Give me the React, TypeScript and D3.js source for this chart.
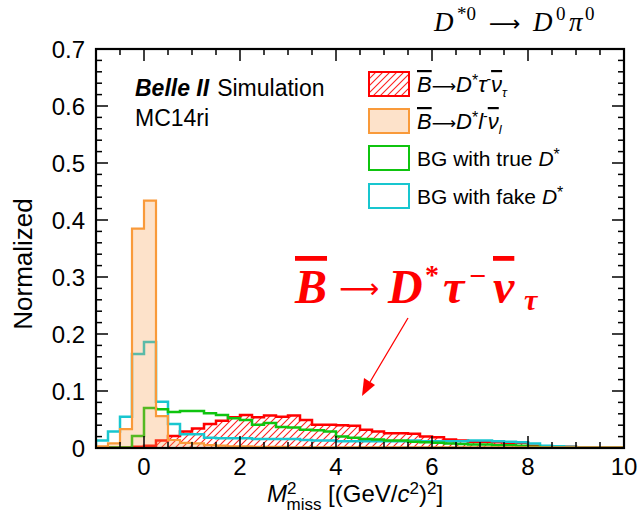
import React from 'react';
import * as d3 from 'd3';

// ---- data (bin width 0.25 from -1 to 10, 44 bins) ----
const binStart = -1;
const binWidth = 0.25;

const tauNu = [0.001, 0.001, 0.001, 0.002, 0.004, 0.013, 0.021, 0.029, 0.034, 0.042, 0.048, 0.054, 0.058, 0.054, 0.057, 0.055, 0.057, 0.049, 0.041, 0.041, 0.040, 0.039, 0.032, 0.029, 0.026, 0.026, 0.025, 0.020, 0.019, 0.015, 0.013, 0.011, 0.011, 0.010, 0.009, 0.009, 0.004, 0.003, 0.002, 0.002, 0.001, 0.001, 0.001, 0.001];
const lNu = [0.003, 0.008, 0.033, 0.385, 0.434, 0.056, 0.014, 0.009, 0.008, 0.005, 0.004, 0.003, 0.003, 0.002, 0.002, 0.002, 0.001, 0.001, 0.001, 0.001, 0.001, 0.001, 0.001, 0.001, 0.001, 0.001, 0.001, 0.001, 0.001, 0.001, 0.001, 0.001, 0.001, 0.001, 0.001, 0.001, 0.001, 0.001, 0.001, 0.001, 0.001, 0.001, 0.001, 0.001];
const bgTrue = [0.001, 0.001, 0.001, 0.021, 0.070, 0.068, 0.063, 0.065, 0.065, 0.061, 0.058, 0.052, 0.049, 0.041, 0.044, 0.037, 0.036, 0.032, 0.031, 0.029, 0.020, 0.018, 0.016, 0.015, 0.013, 0.013, 0.011, 0.010, 0.009, 0.008, 0.007, 0.006, 0.006, 0.005, 0.005, 0.004, 0.002, 0.001, 0, 0, 0, 0, 0, 0];
const bgFake = [0.013, 0.029, 0.055, 0.165, 0.186, 0.081, 0.042, 0.024, 0.024, 0.018, 0.017, 0.017, 0.017, 0.016, 0.016, 0.016, 0.016, 0.014, 0.013, 0.013, 0.012, 0.012, 0.012, 0.012, 0.012, 0.012, 0.013, 0.012, 0.012, 0.012, 0.012, 0.013, 0.013, 0.012, 0.011, 0.010, 0.008, 0.004, 0.003, 0.002, 0.001, 0.001, 0.001, 0.001];

const xTicks = [0, 2, 4, 6, 8, 10];
const xTickLabels = ['0', '2', '4', '6', '8', '10'];
const yTicks = [0, 0.1, 0.2, 0.3, 0.4, 0.5, 0.6, 0.7];
const yTickLabels = ['0', '0.1', '0.2', '0.3', '0.4', '0.5', '0.6', '0.7'];

const W = 642, H = 513;
const L = 96, R = 624, T = 49, B = 448;

const RED = '#ff0000';
const ORANGE = '#f99a3a';
const ORANGE_FILL = 'rgba(250,160,80,0.3)';
const GREEN = '#0fc40f';
const CYAN = '#18c6cf';
const SANS = '"Liberation Sans", Arial, Helvetica, sans-serif';
const SERIF = '"Liberation Serif", "Times New Roman", serif';
const ARROWFONT = '"DejaVu Sans", sans-serif';

export default function App() {
  const x = d3.scaleLinear().domain([-1, 10]).range([L, R]);
  const y = d3.scaleLinear().domain([0, 0.7]).range([B, T]);

  const histPath = (vals: number[]) => {
    const pts: [number, number][] = [[binStart, 0]];
    vals.forEach((v, i) => {
      pts.push([binStart + i * binWidth, v]);
      pts.push([binStart + (i + 1) * binWidth, v]);
    });
    pts.push([binStart + vals.length * binWidth, 0]);
    return d3.line<[number, number]>().x(d => x(d[0])).y(d => y(d[1]))(pts) || '';
  };

  const xMinor = d3.range(-1, 10.0001, 0.5).filter(v => !xTicks.includes(v));
  const yMinor = d3.range(0, 0.7001, 0.02).filter(v => Math.abs(v * 10 - Math.round(v * 10)) > 1e-6);

  const majLen = 12, minLen = 6;

  const legendRows = [84, 121, 158, 196];
  const boxX = 369, boxW = 40, boxH = 24, textX = 417;
  const lfs = 21;

  return (
    <svg width={W} height={H} style={{ position: 'absolute', left: 0, top: 0, background: '#fff' }}>
      <defs>
        <pattern id="redhatch" patternUnits="userSpaceOnUse" width="7" height="7">
          <path d="M0,7 L7,0 M-2,2 L2,-2 M5,9 L9,5" style={{ stroke: '#ff2020', strokeWidth: 1.1, fill: 'none' }} />
        </pattern>
        <clipPath id="plotclip"><rect x={L} y={T} width={R - L} height={B - T} /></clipPath>
      </defs>

      <g clipPath="url(#plotclip)">
        <path d={histPath(tauNu)} fill="url(#redhatch)" stroke="none" />
        <path d={histPath(tauNu)} fill="none" stroke={RED} strokeWidth={2.5} />
        <path d={histPath(bgFake)} fill="none" stroke={CYAN} strokeWidth={2.5} />
        <path d={histPath(bgTrue)} fill="none" stroke={GREEN} strokeWidth={2.5} />
        <path d={histPath(lNu)} fill={ORANGE_FILL} stroke={ORANGE} strokeWidth={2.2} />
      </g>

      {/* frame */}
      <rect x={L} y={T} width={R - L} height={B - T} fill="none" stroke="#000" strokeWidth={2.2} />

      {/* x ticks bottom & top */}
      {xTicks.map(v => (
        <g key={'xt' + v}>
          <line x1={x(v)} x2={x(v)} y1={B} y2={B - majLen} stroke="#000" strokeWidth={1.5} />
          <line x1={x(v)} x2={x(v)} y1={T} y2={T + majLen} stroke="#000" strokeWidth={1.5} />
        </g>
      ))}
      {xMinor.map(v => (
        <g key={'xm' + v}>
          <line x1={x(v)} x2={x(v)} y1={B} y2={B - minLen} stroke="#000" strokeWidth={1.5} />
          <line x1={x(v)} x2={x(v)} y1={T} y2={T + minLen} stroke="#000" strokeWidth={1.5} />
        </g>
      ))}
      {/* y ticks left & right */}
      {yTicks.map(v => (
        <g key={'yt' + v}>
          <line x1={L} x2={L + majLen} y1={y(v)} y2={y(v)} stroke="#000" strokeWidth={1.5} />
          <line x1={R} x2={R - majLen} y1={y(v)} y2={y(v)} stroke="#000" strokeWidth={1.5} />
        </g>
      ))}
      {yMinor.map(v => (
        <g key={'ym' + v}>
          <line x1={L} x2={L + minLen} y1={y(v)} y2={y(v)} stroke="#000" strokeWidth={1.5} />
          <line x1={R} x2={R - minLen} y1={y(v)} y2={y(v)} stroke="#000" strokeWidth={1.5} />
        </g>
      ))}

      {/* tick labels */}
      {xTicks.map((v, i) => (
        <text key={'xl' + v} x={x(v)} y={475} textAnchor="middle" fontFamily={SANS} fontSize={24}>{xTickLabels[i]}</text>
      ))}
      {yTicks.map((v, i) => (
        <text key={'yl' + v} x={85} y={y(v) + 8.5} textAnchor="end" fontFamily={SANS} fontSize={24}>{yTickLabels[i]}</text>
      ))}

      {/* axis titles */}
      <text transform="translate(32,264) rotate(-90)" textAnchor="middle" fontFamily={SANS} fontSize={26}>Normalized</text>
      <text x={267} y={502} fontFamily={SANS} fontSize={24}>
        <tspan fontStyle="italic">M</tspan>
        <tspan fontSize={17} dy={-8}>2</tspan>
        <tspan fontSize={17} dx={-10} dy={16}>miss</tspan>
        <tspan dy={-8}> [(GeV/</tspan>
        <tspan fontStyle="italic">c</tspan>
        <tspan fontSize={17} dy={-8}>2</tspan>
        <tspan dy={8}>)</tspan>
        <tspan fontSize={17} dy={-8}>2</tspan>
        <tspan dy={8}>]</tspan>
      </text>

      {/* title */}
      <text y={31} fontFamily={SERIF} fontSize={27}>
        <tspan x={434} fontStyle="italic">D</tspan>
        <tspan x={457} fontSize={19} dy={-11}>*0</tspan>
        <tspan x={489} dy={11} fontFamily={ARROWFONT} fontSize={22}>⟶</tspan>
        <tspan x={533} fontStyle="italic">D</tspan>
        <tspan x={556} fontSize={19} dy={-11}>0</tspan>
        <tspan x={569} fontStyle="italic" dy={11}>π</tspan>
        <tspan x={585} fontSize={19} dy={-11}>0</tspan>
      </text>

      {/* Belle II label */}
      <text x={135} y={96} fontFamily={SANS} fontSize={23}>
        <tspan fontWeight="bold" fontStyle="italic">Belle II</tspan>
        <tspan dx={8}>Simulation</tspan>
      </text>
      <text x={135} y={126} fontFamily={SANS} fontSize={23}>MC14ri</text>

      {/* legend */}
      <rect x={boxX} y={legendRows[0] - boxH / 2} width={boxW} height={boxH} fill="url(#redhatch)" stroke={RED} strokeWidth={2} />
      <rect x={boxX} y={legendRows[1] - boxH / 2} width={boxW} height={boxH} fill={ORANGE_FILL} stroke={ORANGE} strokeWidth={2} />
      <rect x={boxX} y={legendRows[2] - boxH / 2} width={boxW} height={boxH} fill="none" stroke={GREEN} strokeWidth={2} />
      <rect x={boxX} y={legendRows[3] - boxH / 2} width={boxW} height={boxH} fill="none" stroke={CYAN} strokeWidth={2} />

      <text x={textX} y={legendRows[0] + 8} fontFamily={SANS} fontSize={22}>
        <tspan fontStyle="italic" style={{ textDecoration: 'overline' }}>B</tspan>
        <tspan fontFamily={ARROWFONT} fontSize={17}>⟶</tspan>
        <tspan fontStyle="italic">D</tspan>
        <tspan fontSize={16} dy={-6}>*</tspan>
        <tspan fontStyle="italic" dy={6}>τ</tspan>
        <tspan fontSize={14} dy={-8}>-</tspan>
        <tspan fontStyle="italic" dy={8} style={{ textDecoration: 'overline' }}>ν</tspan>
        <tspan fontStyle="italic" fontSize={13} dy={5}>τ</tspan>
      </text>
      <text x={textX} y={legendRows[1] + 8} fontFamily={SANS} fontSize={22}>
        <tspan fontStyle="italic" style={{ textDecoration: 'overline' }}>B</tspan>
        <tspan fontFamily={ARROWFONT} fontSize={17}>⟶</tspan>
        <tspan fontStyle="italic">D</tspan>
        <tspan fontSize={16} dy={-6}>*</tspan>
        <tspan fontStyle="italic" dy={6}>l</tspan>
        <tspan fontSize={14} dy={-8}>-</tspan>
        <tspan fontStyle="italic" dy={8} style={{ textDecoration: 'overline' }}>ν</tspan>
        <tspan fontStyle="italic" fontSize={13} dy={5}>l</tspan>
      </text>
      <text x={textX} y={legendRows[2] + 8} fontFamily={SANS} fontSize={lfs}>
        BG with true <tspan fontStyle="italic">D</tspan><tspan fontSize={16} dy={-6}>*</tspan>
      </text>
      <text x={textX} y={legendRows[3] + 8} fontFamily={SANS} fontSize={lfs}>
        BG with fake <tspan fontStyle="italic">D</tspan><tspan fontSize={16} dy={-6}>*</tspan>
      </text>

      {/* annotation */}
      <text y={303} fontFamily={SERIF} fontSize={48} fontWeight="bold" fill={RED}>
        <tspan x={295} fontStyle="italic" style={{ textDecoration: 'overline' }}>B</tspan>
        <tspan x={339} fontFamily={ARROWFONT} fontWeight="normal" fontSize={28} dy={-5}>⟶</tspan>
        <tspan x={388} fontStyle="italic" dy={5}>D</tspan>
        <tspan x={425} fontSize={28} dy={-19}>*</tspan>
        <tspan x={443} fontStyle="italic" dy={19}>τ</tspan>
        <tspan x={469} fontSize={30} dy={-17}>−</tspan>
        <tspan x={493} fontStyle="italic" dy={17} style={{ textDecoration: 'overline' }}>ν</tspan>
        <tspan x={524} fontStyle="italic" fontSize={30} dy={7}>τ</tspan>
      </text>
      <line x1={408} y1={318} x2={370} y2={382} stroke={RED} strokeWidth={1.3} />
      <path d="M362,396 L364,378 L375,385 Z" fill={RED} />
    </svg>
  );
}
